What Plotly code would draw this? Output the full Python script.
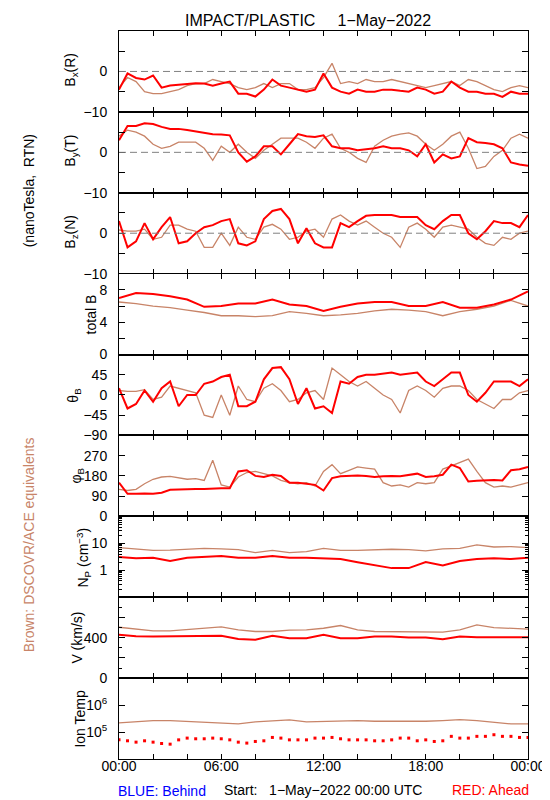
import plotly.graph_objects as go
from plotly.subplots import make_subplots

# ---------------- data ----------------
hours_30 = [0, 0.5, 1, 1.5, 2, 2.5, 3, 3.5, 4, 4.5, 5, 5.5, 6, 6.5, 7, 7.5, 8, 8.5, 9, 9.5,
            10, 10.5, 11, 11.5, 12, 12.5, 13, 13.5, 14, 14.5, 15, 15.5, 16, 16.5, 17, 17.5,
            18, 18.5, 19, 19.5, 20, 20.5, 21, 21.5, 22, 22.5, 23, 23.5, 24]
hours_60 = [0, 1, 2, 3, 4, 5, 6, 7, 8, 9, 10, 11, 12, 13, 14, 15, 16, 17, 18, 19, 20, 21, 22, 23, 24]

bx_ahead = [-4.5, -0.5, -1.6, -2.0, -1.0, -4.0, -3.5, -3.3, -3.2, -2.9, -3.0, -3.5, -3.0, -2.5, -5.5, -5.5,
            -6.2, -4.5, -2.0, -3.5, -4.0, -4.5, -5.0, -4.5, -0.5, -4.0, -5.0, -5.5, -4.5, -5.0, -5.0, -4.5,
            -4.5, -4.8, -5.0, -4.0, -4.5, -5.5, -5.0, -2.5, -4.0, -5.0, -5.0, -5.5, -5.5, -6.3, -5.0, -5.5, -5.5]
bx_dscovr = [-4.0, -1.5, -2.5, -5.0, -5.5, -5.5, -5.0, -4.5, -3.5, -3.0, -3.0, -2.0, -2.5, -3.0, -4.0, -4.5,
             -4.0, -3.0, -4.0, -3.0, -3.0, -4.5, -4.5, -4.0, -1.5, 2.0, -3.0, -2.5, -3.0, -2.0, -2.5, -2.5,
             -2.0, -2.5, -3.0, -3.5, -4.0, -3.5, -3.0, -2.5, -3.5, -2.0, -2.5, -3.5, -4.5, -5.0, -4.0, -3.5, -4.0]

by_ahead = [3.0, 6.5, 6.5, 7.2, 7.0, 6.3, 5.8, 5.8, 5.5, 5.2, 4.8, 4.5, 4.4, 4.2, 0.0, -2.3,
            -1.0, 1.5, 1.5, -0.5, 2.0, 4.5, 4.0, 3.8, 4.2, 1.5, 1.0, 1.0, 0.5, 0.8, 1.0, 1.5,
            1.0, 1.0, 0.5, -1.0, 2.0, -2.5, -0.5, -1.5, -1.0, 3.5, 2.5, 2.3, 2.0, 1.0, -2.5, -3.0, -3.3]
by_dscovr = [4.0, 5.5, 5.0, 4.0, 2.0, 1.0, 1.5, 2.5, 2.5, 2.5, 1.0, -2.0, 1.5, 0.0, 2.0, 0.0,
             -1.5, 0.5, 2.0, 3.5, 3.5, 3.5, 2.5, 1.0, 3.5, 4.5, 1.0, 0.0, -1.5, -2.5, 1.5, 3.0,
             4.0, 4.5, 4.8, 4.0, 2.0, 0.5, 2.0, 4.0, 5.0, 1.0, -4.0, -3.5, -1.0, 0.5, 3.5, 4.5, 3.5]

bz_ahead = [3.0, -3.5, -2.0, 2.5, -1.5, 1.5, 4.0, -2.5, -2.0, 0.0, 1.5, 2.0, 3.0, 3.5, -2.5, -3.0,
            -2.0, 3.5, 5.5, 6.0, 3.5, -2.5, 1.2, -2.5, -3.5, -3.5, 2.5, 1.5, 3.0, 4.3, 4.5, 4.5,
            4.5, 4.0, 4.0, 4.0, 2.0, 1.0, 3.0, 4.5, 4.5, 0.0, -1.5, 0.5, 3.0, 2.5, 2.5, 1.5, 4.5]
bz_dscovr = [0.8, 0.5, 0.5, 1.0, -1.5, -1.0, 2.0, 2.0, 1.0, 0.5, -3.5, -3.5, 0.0, -3.0, 1.5, -1.0,
             -1.5, 1.5, 2.2, 1.0, -1.5, -1.0, 0.5, 1.0, -1.0, 3.5, 4.5, 3.0, 2.0, 3.0, 1.5, 0.0,
             -1.0, -3.5, 1.5, 2.5, 1.0, -1.0, 1.5, 2.0, 1.5, 1.0, -1.0, -2.5, -3.0, -1.0, -1.5, 0.0, 0.5]

btot_ahead = [7.0, 7.6, 7.5, 7.2, 6.8, 5.9, 6.0, 6.3, 6.3, 6.8, 6.2, 6.0, 5.4, 5.9, 6.3, 6.5,
              6.5, 6.0, 6.0, 6.5, 5.8, 5.8, 6.2, 6.8, 7.8]
btot_dscovr = [6.5, 6.3, 6.0, 5.8, 5.5, 5.2, 4.8, 4.8, 4.7, 4.8, 5.3, 5.1, 4.8, 4.9, 5.1, 5.4,
               5.6, 5.5, 5.3, 4.8, 5.3, 5.6, 6.0, 6.7, 6.0]

theta_ahead = [15, -30, -20, 10, -15, 15, 30, -25, 0, 0, 25, 30, 40, 45, -25, -25,
               -15, 35, 60, 62, 35, -20, 15, -30, -25, -40, 30, 25, 40, 45, 45, 48,
               50, 45, 48, 50, 30, 20, 35, 50, 50, 0, -15, 5, 30, 30, 30, 20, 35]
theta_dscovr = [10, 8, 8, 12, -10, -5, 20, 15, 10, 5, -45, -50, 0, -45, 20, -10,
                -15, 15, 25, 10, -15, -10, 5, 10, -10, 60, 45, 30, 20, 30, 15, 0,
                -10, -40, 10, 20, 10, -5, 15, 20, 20, 10, -10, -20, -30, -10, -10, 5, 10]

phi_ahead = [150, 100, 100, 102, 100, 105, 118, 120, 122, 122, 122, 125, 125, 125, 200, 205,
             180, 175, 185, 180, 150, 150, 145, 140, 115, 170, 178, 180, 182, 180, 175, 178,
             180, 178, 185, 190, 175, 178, 185, 230, 215, 155, 158, 160, 162, 160, 205, 210, 220]
phi_dscovr = [120, 115, 120, 145, 165, 175, 178, 170, 165, 168, 160, 250, 140, 130, 175, 195,
              200, 190, 180, 160, 150, 145, 150, 135, 200, 230, 190, 205, 220, 215, 210, 150,
              135, 140, 130, 150, 145, 150, 210, 225, 240, 255, 200, 150, 130, 135, 130, 140, 150]

np_ahead = [3.1, 2.8, 2.9, 2.2, 2.9, 3.1, 3.4, 2.9, 2.9, 3.4, 2.9, 2.9, 2.8, 2.6, 2.0, 1.5,
            1.2, 1.2, 2.0, 1.5, 2.2, 2.6, 2.8, 2.6, 2.9]
np_dscovr = [6.9, 6.0, 5.5, 5.6, 6.2, 6.5, 6.2, 5.8, 4.5, 5.5, 4.5, 4.9, 6.5, 5.5, 5.5, 5.8,
             6.0, 5.8, 5.2, 6.2, 6.5, 8.7, 7.3, 7.5, 6.9]

v_ahead = [428, 415, 411, 411, 411, 411, 418, 388, 380, 418, 395, 395, 428, 395, 395, 411,
           411, 401, 401, 385, 411, 405, 405, 405, 405]
v_dscovr = [503, 487, 467, 467, 480, 487, 507, 477, 461, 461, 474, 477, 493, 520, 477, 461,
            461, 461, 461, 454, 477, 526, 500, 493, 484]

temp_ahead = [51300, 47300, 42200, 47300, 42200, 37600, 35500, 51300, 59600, 56200, 56200, 59600,
              56200, 51300, 42200, 38900, 44700, 47300, 63100, 59600, 51300, 51300, 51300, 59600,
              59600, 63100, 56200, 51300, 51300, 51300, 47300, 47300, 51300, 59600, 59600, 47300,
              51300, 44700, 47300, 69200, 59600, 59600, 69200, 69200, 79400, 69200, 69200, 63100, 63100]
temp_dscovr = [219000, 237000, 266000, 266000, 251000, 237000, 219000, 200000, 237000, 266000,
               282000, 237000, 251000, 251000, 266000, 251000, 251000, 237000, 251000, 266000,
               288000, 266000, 237000, 200000, 200000]

x_tickvals = [0, 2, 4, 6, 8, 10, 12, 14, 16, 18, 20, 22, 24]
x_ticktext = ["00:00", "", "", "06:00", "", "", "12:00", "", "", "18:00", "", "", "00:00"]

# ---------------- style ----------------
RED = "#FF0000"
BROWN = "rgb(200,132,104)"
FONT = "Liberation Sans"
W, H = 550, 800
ML, MR, MT, MB = 111, 24, 23, 49


def pxx(x):
    return (x - ML) / (W - ML - MR)


def pxy(y):
    return (H - MB - y) / (H - MT - MB)


fig = make_subplots(rows=9, cols=1, shared_xaxes=True, vertical_spacing=0)

panels = [
    (hours_30, bx_dscovr, bx_ahead),
    (hours_30, by_dscovr, by_ahead),
    (hours_30, bz_dscovr, bz_ahead),
    (hours_60, btot_dscovr, btot_ahead),
    (hours_30, theta_dscovr, theta_ahead),
    (hours_30, phi_dscovr, phi_ahead),
    (hours_60, np_dscovr, np_ahead),
    (hours_60, v_dscovr, v_ahead),
]
for i, (t, brown, red) in enumerate(panels, start=1):
    fig.add_trace(go.Scatter(x=t, y=brown, mode="lines", line=dict(color=BROWN, width=1.3),
                             showlegend=False, hoverinfo="skip"), row=i, col=1)
    fig.add_trace(go.Scatter(x=t, y=red, mode="lines", line=dict(color=RED, width=2),
                             showlegend=False, hoverinfo="skip"), row=i, col=1)

fig.add_trace(go.Scatter(x=hours_60, y=temp_dscovr, mode="lines", line=dict(color=BROWN, width=1.3),
                         showlegend=False, hoverinfo="skip"), row=9, col=1)
fig.add_trace(go.Scatter(x=hours_30, y=temp_ahead, mode="markers",
                         marker=dict(color=RED, size=3, symbol="square", line=dict(width=0)),
                         showlegend=False, hoverinfo="skip"), row=9, col=1)

for r in (1, 2, 3):
    fig.add_hline(y=0, line=dict(color="rgb(128,128,128)", width=1, dash="7px,4px"), row=r, col=1)

axis_common = dict(showline=True, linecolor="black", linewidth=1, mirror="allticks",
                   ticks="inside", tickcolor="black", showgrid=False, zeroline=False,
                   tickfont=dict(family=FONT, size=14, color="black"))

fig.update_xaxes(range=[0, 24], tickmode="array", tickvals=x_tickvals, ticktext=x_ticktext,
                 ticklen=5, tickwidth=1, ticklabelstandoff=-6, **axis_common)

MINUS = "\u2212"
yspecs = {
    1: dict(range=[-10, 10], tickvals=[-10, -5, 0, 5, 10], ticktext=[MINUS + "10", "", "0", "", ""]),
    2: dict(range=[-10, 10], tickvals=[-10, -5, 0, 5, 10], ticktext=[MINUS + "10", "", "0", "", ""]),
    3: dict(range=[-10, 10], tickvals=[-10, -5, 0, 5, 10], ticktext=[MINUS + "10", "", "0", "", ""]),
    4: dict(range=[0, 10], tickvals=[0, 2, 4, 6, 8, 10], ticktext=["0", "", "4", "", "8", ""]),
    5: dict(range=[-90, 90], tickvals=[-90, -45, 0, 45, 90],
            ticktext=[MINUS + "90", MINUS + "45", "0", "45", ""]),
    6: dict(range=[0, 360], tickvals=[0, 90, 180, 270, 360], ticktext=["0", "90", "180", "270", ""]),
    7: dict(type="log", range=[-1, 2], tickvals=[0.1, 1, 10, 100], ticktext=["", "1", "10", ""],
            minor=dict(ticks="inside", ticklen=3, tickcolor="black", tickmode="array",
                       tickvals=[0.2, 0.3, 0.4, 0.5, 0.6, 0.7, 0.8, 0.9, 2, 3, 4, 5, 6, 7, 8, 9,
                                 20, 30, 40, 50, 60, 70, 80, 90])),
    8: dict(range=[0, 800], tickvals=[0, 200, 400, 600, 800], ticktext=["0", "", "400", "", ""],
            minor=dict(ticks="inside", ticklen=3, tickcolor="black", dtick=100)),
    9: dict(type="log", range=[4, 7], tickvals=[1e4, 1e5, 1e6, 1e7],
            ticktext=["", "10<sup>5</sup>", "10<sup>6</sup>", ""]),
}
for r, spec in yspecs.items():
    fig.update_yaxes(tickmode="array", ticklen=6, tickwidth=1, ticklabelstandoff=8,
                     row=r, col=1, **axis_common, **spec)

annotations = []


def add_text(text, x, y, size=14, color="black", angle=0):
    annotations.append(dict(text=text, x=pxx(x), y=pxy(y), xref="paper", yref="paper",
                            xanchor="center", yanchor="middle", showarrow=False, textangle=angle,
                            font=dict(family=FONT, size=size, color=color)))


NB = "\u00a0"
add_text("IMPACT/PLASTIC" + NB * 5 + "1" + MINUS + "May" + MINUS + "2022", 303, 12, size=16)
add_text("B<sub>x</sub>(R)", 62, 62, angle=-90)
add_text("B<sub>y</sub>(T)", 62, 143, angle=-90)
add_text("B<sub>z</sub>(N)", 62, 224, angle=-90)
add_text("total B", 83, 306, angle=-90)
add_text("θ<sub>B</sub>", 65, 387, angle=-90)
add_text("φ<sub>B</sub>", 68, 468, angle=-90)
add_text("N<sub>P</sub> (cm<sup>" + MINUS + "3</sup>)", 75, 550, angle=-90)
add_text("V (km/s)", 68, 630, angle=-90)
add_text("Ion Temp", 71, 711, angle=-90)
add_text("(nanoTesla," + NB * 2 + "RTN)", 20, 183, angle=-90)
add_text("Brown: DSCOVR/ACE equivalents", 20, 537, color=BROWN, angle=-90)
add_text("BLUE: Behind", 155, 783, color="#0000FF")
add_text("Start:" + NB * 3 + "1" + MINUS + "May" + MINUS + "2022 00:00 UTC", 318, 782)
add_text("RED: Ahead", 488, 782, color=RED)

fig.update_layout(width=W, height=H, margin=dict(l=ML, r=MR, t=MT, b=MB),
                  paper_bgcolor="white", plot_bgcolor="white", showlegend=False,
                  font=dict(family=FONT, size=14, color="black"),
                  annotations=list(fig.layout.annotations) + annotations)

fig.write_html("out.html")
